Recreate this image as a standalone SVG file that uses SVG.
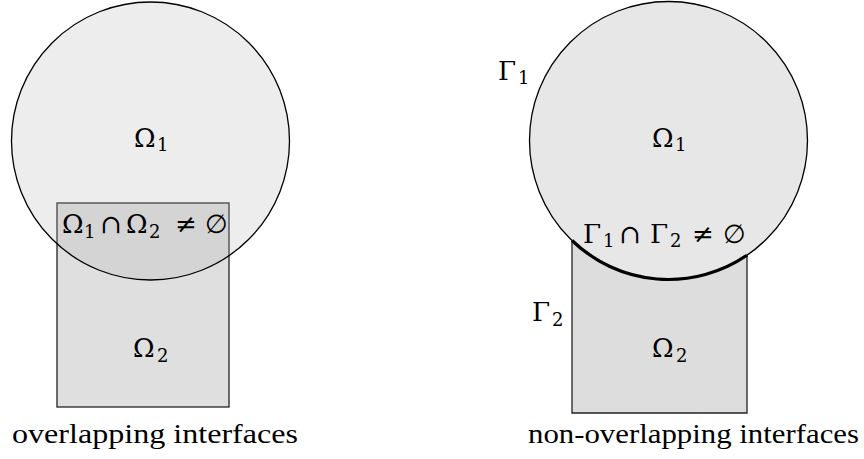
<svg xmlns="http://www.w3.org/2000/svg" width="864" height="459" viewBox="0 0 864 459">
<style>
.big{font-size:26px}
.sub{font-size:18px}
.cap{font-size:28px;font-family:'Liberation Serif','Times New Roman',serif}
.edge{stroke:#222;stroke-width:1.3}
</style>
<rect width="864" height="459" fill="#fff"/>
<g id="left-omega2">
<rect x="57" y="203" width="172" height="204" fill="#dfdfdf" class="edge"/>
</g>
<g id="left-omega1">
<circle cx="150.5" cy="141" r="139" fill="rgb(180,180,180)" fill-opacity="0.24" stroke="#000" stroke-width="1.3"/>
</g>
<g id="right-omega1">
<circle cx="668.5" cy="140.5" r="139" fill="#e7e7e7" stroke="#000" stroke-width="1.3"/>
</g>
<g id="right-omega2">
<path d="M572,240.5 L572,413 L747,413 L747,255.2 A139,139 0 0 1 572,240.5 Z" fill="#dddddd" stroke="none"/>
<path d="M572,240.5 L572,413 L747,413 L747,255.2" fill="none" class="edge"/>
</g>
<g id="interface">
<path d="M747,255.2 A139,139 0 0 1 572,240.5" fill="none" stroke="#000" stroke-width="3.2"/>
</g>
<g id="labels" font-family="'DejaVu Serif', serif" fill="#000">
<text class="big" x="134" y="147">Ω</text><text class="sub" x="157" y="151">1</text>
<text class="big" x="133" y="357">Ω</text><text class="sub" x="157" y="362">2</text>
<text class="big" x="652" y="147">Ω</text><text class="sub" x="675" y="151">1</text>
<text class="big" x="652" y="357">Ω</text><text class="sub" x="676" y="362">2</text>
<text class="big" x="62" y="233">Ω</text><text class="sub" x="84" y="238">1</text>
<text class="big" x="100" y="233">∩</text>
<text class="big" x="126" y="233">Ω</text><text class="sub" x="149" y="238">2</text>
<text class="big" x="175" y="233">≠</text>
<text class="big" x="205" y="233">∅</text>
<text class="big" x="583" y="243">Γ</text><text class="sub" x="603" y="247">1</text>
<text class="big" x="619" y="243">∩</text>
<text class="big" x="650" y="243">Γ</text><text class="sub" x="670" y="247">2</text>
<text class="big" x="692" y="243">≠</text>
<text class="big" x="723" y="243">∅</text>
<text class="big" x="498" y="80">Γ</text><text class="sub" x="518" y="84">1</text>
<text class="big" x="532" y="321">Γ</text><text class="sub" x="552" y="326">2</text>
<text class="cap" x="12" y="443" textLength="286" lengthAdjust="spacingAndGlyphs">overlapping interfaces</text>
<text class="cap" x="528" y="443" textLength="331" lengthAdjust="spacingAndGlyphs">non-overlapping interfaces</text>
</g>
</svg>
